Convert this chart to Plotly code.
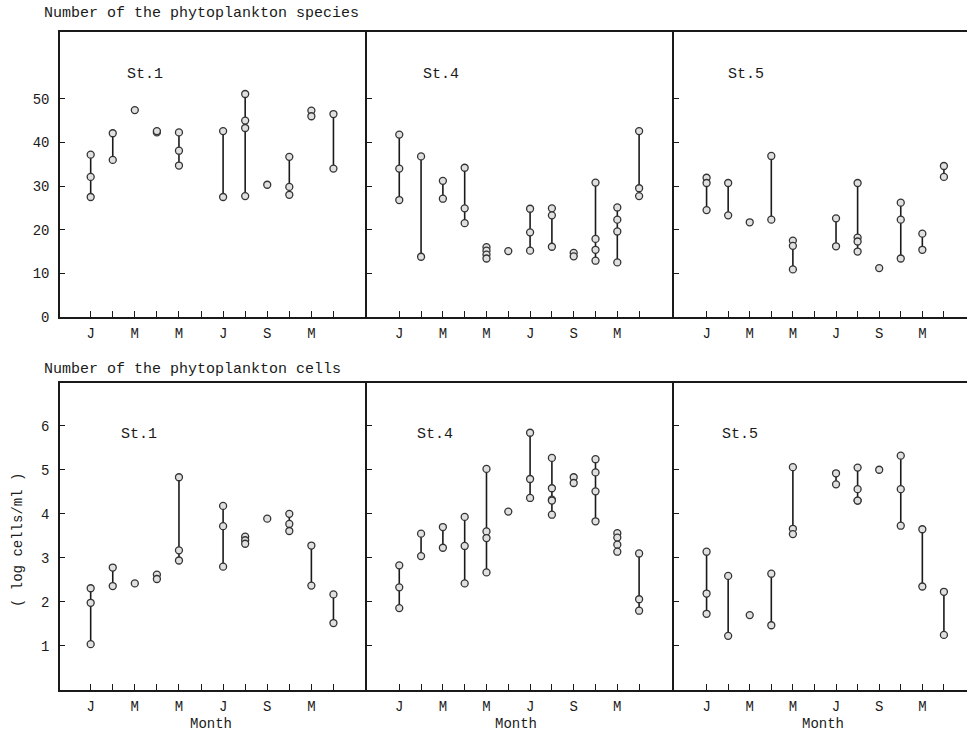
import plotly.graph_objects as go

W, H = 967, 733

months = list(range(1, 13))
month_labels = ["J", "", "M", "", "M", "", "J", "", "S", "", "M", ""]

# Number of phytoplankton species (per month index, several samples each)
st1_species = [[37.2, 32.1, 27.5], [42.1, 36.0], [47.4], [42.3, 42.6],
               [42.3, 38.1, 34.7], [], [42.6, 27.5], [51.1, 45.0, 43.3, 27.7],
               [30.3], [36.7, 29.8, 28.0], [47.3, 46.0], [46.5, 34.0]]
st4_species = [[41.8, 34.0, 26.8], [36.8, 13.8], [31.2, 27.1], [34.2, 24.9, 21.5],
               [16.0, 15.2, 14.3, 13.4], [15.1], [24.8, 19.4, 15.2], [24.9, 23.3, 16.1],
               [14.7, 13.9], [30.8, 17.9, 15.4, 12.9], [25.1, 22.3, 19.6, 12.5],
               [42.6, 29.5, 27.7]]
st5_species = [[31.9, 30.7, 24.5], [30.7, 23.3], [21.7], [36.9, 22.3],
               [17.5, 16.3, 10.9], [], [22.6, 16.2], [30.7, 18.2, 17.3, 15.0],
               [11.2], [26.2, 22.3, 13.4], [19.1, 15.4], [34.6, 32.1]]

# Number of phytoplankton cells (log cells/ml)
st1_cells = [[2.31, 1.98, 1.04], [2.78, 2.36], [2.42], [2.62, 2.52],
             [4.83, 3.17, 2.94], [], [4.18, 3.72, 2.80], [3.48, 3.40, 3.32],
             [3.89], [4.00, 3.77, 3.61], [3.28, 2.37], [2.17, 1.52]]
st4_cells = [[2.83, 2.33, 1.86], [3.55, 3.04], [3.70, 3.23], [3.93, 3.27, 2.42],
             [5.02, 3.60, 3.45, 2.67], [4.05], [5.84, 4.79, 4.36],
             [5.27, 4.58, 4.32, 4.30, 3.98], [4.83, 4.70], [5.24, 4.94, 4.51, 3.83],
             [3.56, 3.46, 3.30, 3.14], [3.10, 2.06, 1.80]]
st5_cells = [[3.14, 2.19, 1.73], [2.59, 1.23], [1.70], [2.64, 1.47],
             [5.06, 3.66, 3.54], [], [4.92, 4.67], [5.05, 4.56, 4.30, 4.30],
             [5.00], [5.32, 4.56, 3.73], [3.65, 2.35], [2.23, 1.25]]

stations = ["St.1", "St.4", "St.5"]
species_data = [st1_species, st4_species, st5_species]
cells_data = [st1_cells, st4_cells, st5_cells]

species_ticks = [0, 10, 20, 30, 40, 50]
cells_ticks = [1, 2, 3, 4, 5, 6]

FONT = "Liberation Mono"
INK = "#1a1a1a"

# panel geometry (pixels)
px_cols = [(60, 367), (367, 674), (674, 967)]
x_ranges = [[-0.39, 13.52], [-0.48, 13.6], [-0.51, 13.07]]
row_top = (32, 317)
row_bot = (383, 690)


def fx(p):
    return p / W


def fy(p):
    return 1 - p / H


fig = go.Figure()


def add_panel(ax, data):
    xs, ys = [], []
    for m, vals in zip(months, data):
        if not vals:
            continue
        for v in vals:
            xs.append(m)
            ys.append(v)
        xs.append(None)
        ys.append(None)
    suffix = "" if ax == 1 else str(ax)
    fig.add_trace(go.Scatter(
        x=xs, y=ys, mode="lines+markers", connectgaps=False,
        line=dict(color=INK, width=1.6),
        marker=dict(symbol="circle", size=7, color="#e0e0e0",
                    line=dict(color="#333333", width=1.3)),
        xaxis="x" + suffix, yaxis="y" + suffix, showlegend=False,
        hoverinfo="skip"))


layout = dict(width=W, height=H, margin=dict(l=0, r=0, t=0, b=0, autoexpand=False),
              paper_bgcolor="white", plot_bgcolor="white",
              font=dict(family=FONT, color=INK, size=13))

ax = 0
for r, (data_set, rowpx, yticks, yrange) in enumerate(
        [(species_data, row_top, species_ticks, [0, 65.3]),
         (cells_data, row_bot, cells_ticks, [0, 6.97])]):
    for c in range(3):
        ax += 1
        add_panel(ax, data_set[c])
        suffix = "" if ax == 1 else str(ax)
        layout["xaxis" + suffix] = dict(
            domain=[fx(px_cols[c][0]), fx(px_cols[c][1])],
            range=x_ranges[c], anchor="y" + suffix, automargin=False,
            showline=True, linecolor=INK, linewidth=1.5, mirror=True,
            showgrid=False, zeroline=False,
            tickmode="array", tickvals=months, ticktext=month_labels,
            ticks="inside", ticklen=6, tickwidth=1.2, tickcolor=INK,
            tickfont=dict(family=FONT, size=14, color=INK),
            ticklabelstandoff=2)
        layout["yaxis" + suffix] = dict(
            domain=[fy(rowpx[1]), fy(rowpx[0])],
            range=yrange, anchor="x" + suffix, automargin=False,
            showline=True, linecolor=INK, linewidth=1.5,
            mirror=False,
            showgrid=False, zeroline=False,
            tickmode="array", tickvals=yticks,
            ticks="inside", ticklen=5, tickwidth=1.2, tickcolor=INK,
            showticklabels=(c == 0),
            tickfont=dict(family=FONT, size=14, color=INK),
            ticklabelstandoff=6)

fig.update_layout(**layout)

annotations = [
    dict(text="Number of the phytoplankton species", x=fx(42), y=fy(13),
         xanchor="left", yanchor="middle", font=dict(size=15)),
    dict(text="Number of the phytoplankton cells", x=fx(42), y=fy(369),
         xanchor="left", yanchor="middle", font=dict(size=15)),
    dict(text="( log cells/ml )", x=fx(18), y=fy(540), textangle=-90,
         xanchor="center", yanchor="middle", font=dict(size=14)),
]
st_x = [145, 441, 746]
for c in range(3):
    annotations.append(dict(text=stations[c], x=fx(st_x[c]), y=fy(75),
                            xanchor="center", yanchor="middle", font=dict(size=15)))
    annotations.append(dict(text=stations[c], x=fx(st_x[c] - 6), y=fy(435),
                            xanchor="center", yanchor="middle", font=dict(size=15)))
month_x = [211, 516, 823]
for c in range(3):
    annotations.append(dict(text="Month", x=fx(month_x[c]), y=fy(724),
                            xanchor="center", yanchor="middle", font=dict(size=14)))
for a in annotations:
    a.update(xref="paper", yref="paper", showarrow=False)
    a["font"].update(family=FONT, color=INK)

fig.update_layout(annotations=annotations)

fig.write_html("out.html",
               config={"displayModeBar": False},
               post_script="document.body.style.margin='0';"
                           "document.body.style.overflow='hidden';")
